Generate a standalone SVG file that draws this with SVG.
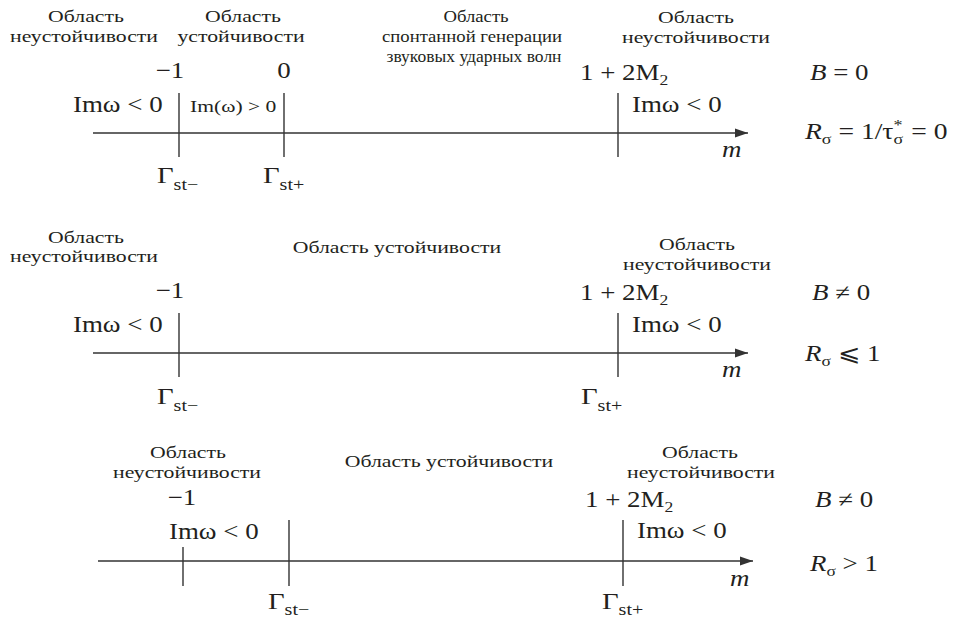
<svg xmlns="http://www.w3.org/2000/svg" width="959" height="620" viewBox="0 0 959 620">
<style>
  text { fill: #231f20; font-family: "Liberation Serif", "DejaVu Serif", serif; }
  .ru { font-size: 17px; text-anchor: middle; }
  .mt { font-size: 23px; }
  .mtc { font-size: 23px; text-anchor: middle; }
  .sm { font-size: 16px; }
  .sub { font-size: 15px; }
  .it { font-style: italic; }
  .ax { stroke: #333; stroke-width: 1.4; fill: none; }
  .tk { stroke: #333; stroke-width: 1.4; }
</style>
<defs>
  <marker id="arr" markerUnits="userSpaceOnUse" markerWidth="14" markerHeight="10" refX="13" refY="5" orient="auto">
    <path d="M0,0.5 L13,5 L0,9.5 Z" fill="#333"/>
  </marker>
</defs>

<g id="connectors">
  <line class="ax" x1="93" y1="133" x2="748" y2="133" marker-end="url(#arr)"/>
  <line class="tk" x1="179" y1="93" x2="179" y2="157"/>
  <line class="tk" x1="284" y1="93" x2="284" y2="157"/>
  <line class="tk" x1="618" y1="93" x2="618" y2="157"/>

  <line class="ax" x1="93" y1="353" x2="748" y2="353" marker-end="url(#arr)"/>
  <line class="tk" x1="179" y1="313" x2="179" y2="377"/>
  <line class="tk" x1="618" y1="313" x2="618" y2="377"/>

  <line class="ax" x1="98" y1="561" x2="753" y2="561" marker-end="url(#arr)"/>
  <line class="tk" x1="183" y1="547" x2="183" y2="586"/>
  <line class="tk" x1="289" y1="520" x2="289" y2="586"/>
  <line class="tk" x1="623" y1="520" x2="623" y2="586"/>
</g>

<!-- Row 1 -->
<g id="r1-unstable-left">
  <text class="ru" transform="translate(86 22) scale(1.28 1)">Область</text>
  <text class="ru" transform="translate(84 42) scale(1.28 1)">неустойчивости</text>
</g>
<g id="r1-stable">
  <text class="ru" transform="translate(243 22) scale(1.28 1)">Область</text>
  <text class="ru" transform="translate(241 42) scale(1.28 1)">устойчивости</text>
</g>
<g id="r1-spont">
  <text class="ru" transform="translate(476 22) scale(1.1 1)">Область</text>
  <text class="ru" transform="translate(472 42) scale(1.1 1)">спонтанной генерации</text>
  <text class="ru" transform="translate(474 62) scale(1.03 1)">звуковых ударных волн</text>
</g>
<g id="r1-unstable-right">
  <text class="ru" transform="translate(696 23) scale(1.28 1)">Область</text>
  <text class="ru" transform="translate(696 43) scale(1.28 1)">неустойчивости</text>
</g>
<g id="r1-gamma-minus">
  <text class="mtc" transform="translate(170 78) scale(1.17 1)">−1</text>
  <text class="mt" transform="translate(73 112) scale(1.17 1)">Imω &lt; 0</text>
  <text class="mt" transform="translate(157 183) scale(1.25 1)">Γ<tspan class="sm" dy="7">st−</tspan></text>
</g>
<g id="r1-gamma-plus">
  <text class="mtc" transform="translate(284 78) scale(1.17 1)">0</text>
  <text class="sm" transform="translate(190 112) scale(1.35 1)">Im(ω) &gt; 0</text>
  <text class="mt" transform="translate(263 183) scale(1.25 1)">Γ<tspan class="sm" dy="7">st+</tspan></text>
</g>
<g id="r1-point-m2">
  <text class="mt" transform="translate(580 80) scale(1.17 1)">1 + 2M<tspan class="sub" dy="5">2</tspan></text>
  <text class="mt" transform="translate(632 112) scale(1.17 1)">Imω &lt; 0</text>
</g>
<g id="r1-axis-label">
  <text class="mt it" transform="translate(722 157) scale(1.17 1)">m</text>
</g>
<g id="r1-conditions">
  <text class="mt" transform="translate(810 80) scale(1.17 1)"><tspan class="it">B</tspan> = 0</text>
  <text class="mt" transform="translate(805 139) scale(1.2 1)"><tspan class="it">R</tspan><tspan class="sub" dy="5">σ</tspan><tspan dy="-5"> = 1/τ</tspan><tspan class="sub" dy="-9">*</tspan><tspan class="sub" dx="-7.5" dy="14">σ</tspan><tspan dx="1" dy="-5"> = 0</tspan></text>
</g>

<!-- Row 2 -->
<g id="r2-unstable-left">
  <text class="ru" transform="translate(86 243) scale(1.28 1)">Область</text>
  <text class="ru" transform="translate(84 262) scale(1.28 1)">неустойчивости</text>
</g>
<g id="r2-stable">
  <text class="ru" transform="translate(397 253) scale(1.28 1)">Область устойчивости</text>
</g>
<g id="r2-unstable-right">
  <text class="ru" transform="translate(697 250) scale(1.28 1)">Область</text>
  <text class="ru" transform="translate(697 270) scale(1.28 1)">неустойчивости</text>
</g>
<g id="r2-gamma-minus">
  <text class="mtc" transform="translate(170 298) scale(1.17 1)">−1</text>
  <text class="mt" transform="translate(73 332) scale(1.17 1)">Imω &lt; 0</text>
  <text class="mt" transform="translate(157 404) scale(1.25 1)">Γ<tspan class="sm" dy="7">st−</tspan></text>
</g>
<g id="r2-gamma-plus">
  <text class="mt" transform="translate(580 300) scale(1.17 1)">1 + 2M<tspan class="sub" dy="5">2</tspan></text>
  <text class="mt" transform="translate(632 332) scale(1.17 1)">Imω &lt; 0</text>
  <text class="mt" transform="translate(581 404) scale(1.25 1)">Γ<tspan class="sm" dy="7">st+</tspan></text>
</g>
<g id="r2-axis-label">
  <text class="mt it" transform="translate(722 377) scale(1.17 1)">m</text>
</g>
<g id="r2-conditions">
  <text class="mt" transform="translate(812 300) scale(1.17 1)"><tspan class="it">B</tspan> ≠ 0</text>
  <text class="mt" transform="translate(805 361) scale(1.17 1)"><tspan class="it">R</tspan><tspan class="sub" dy="5">σ</tspan><tspan dy="-5"> ⩽ 1</tspan></text>
</g>

<!-- Row 3 -->
<g id="r3-unstable-left">
  <text class="ru" transform="translate(188 458) scale(1.28 1)">Область</text>
  <text class="ru" transform="translate(187 478) scale(1.28 1)">неустойчивости</text>
</g>
<g id="r3-stable">
  <text class="ru" transform="translate(449 467) scale(1.28 1)">Область устойчивости</text>
</g>
<g id="r3-unstable-right">
  <text class="ru" transform="translate(700 458) scale(1.28 1)">Область</text>
  <text class="ru" transform="translate(701 478) scale(1.28 1)">неустойчивости</text>
</g>
<g id="r3-minus-one">
  <text class="mtc" transform="translate(182 505) scale(1.17 1)">−1</text>
  <text class="mt" transform="translate(169 539) scale(1.17 1)">Imω &lt; 0</text>
</g>
<g id="r3-gamma-minus">
  <text class="mt" transform="translate(268 609) scale(1.25 1)">Γ<tspan class="sm" dy="6">st−</tspan></text>
</g>
<g id="r3-gamma-plus">
  <text class="mt" transform="translate(585 507) scale(1.17 1)">1 + 2M<tspan class="sub" dy="5">2</tspan></text>
  <text class="mt" transform="translate(637 538) scale(1.17 1)">Imω &lt; 0</text>
  <text class="mt" transform="translate(602 609) scale(1.25 1)">Γ<tspan class="sm" dy="6">st+</tspan></text>
</g>
<g id="r3-axis-label">
  <text class="mt it" transform="translate(730 586) scale(1.17 1)">m</text>
</g>
<g id="r3-conditions">
  <text class="mt" transform="translate(815 507) scale(1.17 1)"><tspan class="it">B</tspan> ≠ 0</text>
  <text class="mt" transform="translate(810 571) scale(1.17 1)"><tspan class="it">R</tspan><tspan class="sub" dy="5">σ</tspan><tspan dy="-5"> &gt; 1</tspan></text>
</g>
</svg>
